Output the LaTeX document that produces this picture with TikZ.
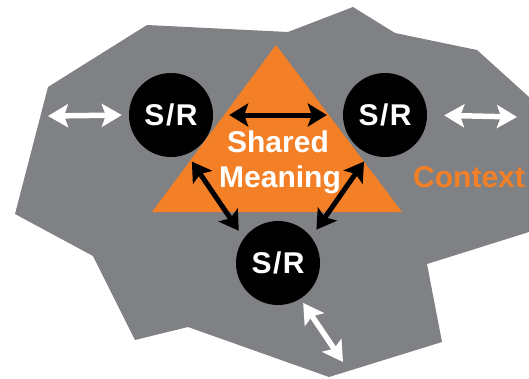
\documentclass[tikz,border=0pt]{standalone}
\usepackage{fontspec}
\setmainfont{Liberation Sans}
\usetikzlibrary{arrows.meta}
\definecolor{ctxgray}{RGB}{128,129,132}
\definecolor{smorange}{RGB}{243,127,38}
\tikzset{
  srnode/.style={circle,fill=black,minimum size=84pt,inner sep=0pt,text=white,
    font=\fontsize{30}{32}\selectfont\bfseries},
  smtext/.style={text=white,font=\fontsize{30}{35}\selectfont\bfseries,inner sep=0pt,anchor=base},
  blackarrow/.style={draw=black,line width=5pt,
    {Stealth[length=19pt,width=23pt,inset=4pt]}-{Stealth[length=19pt,width=23pt,inset=4pt]}},
  whitearrow/.style={draw=white,line width=5.5pt,
    {Stealth[length=20pt,width=23pt,inset=4pt]}-{Stealth[length=20pt,width=23pt,inset=4pt]}}
}
\begin{document}
\begin{tikzpicture}[x=1pt,y=-1pt]
\useasboundingbox (0,0) rectangle (529,378);
% context area
\fill[ctxgray] (147,25) -- (288,32) -- (353,7) -- (395,33) -- (477,50) -- (529,97)
  -- (529,232) -- (427,264) -- (442,342) -- (329,377) -- (188,327) -- (135,340)
  -- (93,256) -- (15,214) -- (48,87) -- cycle;
% shared meaning triangle
\fill[smorange] (276,45) -- (402,212) -- (152,212) -- cycle;
% texts
\node[smtext] (sm1) at (278,152) {Shared};
\node[smtext] (sm2) at (280,187) {Meaning};
\node[text=smorange,font=\fontsize{30}{35}\selectfont\bfseries,inner sep=0pt,anchor=base west] (ctx) at (413,187) {Context};
% S/R nodes
\node[srnode] (L) at (171,115) {S\kern1.5pt/\kern1.5pt R};
\node[srnode] (R) at (385,115) {S\kern1.5pt/\kern1.5pt R};
\node[srnode] (B) at (278,263) {S\kern1.5pt/\kern1.5pt R};
% black arrows
\draw[blackarrow,shorten <=16pt,shorten >=16pt] (L.east) -- (R.west);
\draw[blackarrow,shorten <=9pt,shorten >=9pt] (L.-68) -- (B.144);
\draw[blackarrow,shorten <=9pt,shorten >=9pt] (R.-112) -- (B.38);
% white arrows
\coordinate (wl) at (48,116);
\coordinate (wr) at (517,117);
\coordinate (wb) at (343,362);
\draw[whitearrow,shorten >=7pt] (wl) -- (L.west);
\draw[whitearrow,shorten <=17pt] (R.east) -- (wr);
\draw[whitearrow,shorten <=5pt] (B.-58) -- (wb);
\end{tikzpicture}
\end{document}
